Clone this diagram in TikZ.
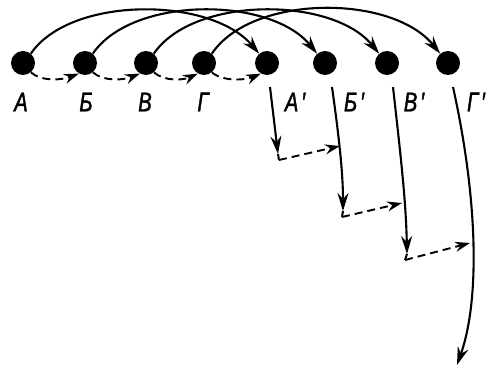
\documentclass[tikz,border=0pt]{standalone}
\usepackage{fontspec}
\newfontfamily\lblfont[FakeStretch=0.75,FakeBold=1.5]{Liberation Sans}
\usetikzlibrary{arrows.meta}
\begin{document}
\begin{tikzpicture}[x=1pt,y=-1pt,
 dot/.style={circle,fill=black,inner sep=0pt,minimum size=24pt},
 lbl/.style={font=\lblfont\fontsize{27}{27}\selectfont\itshape,inner sep=0pt},
 arc/.style={line width=2.1pt,-{Stealth[length=18pt,width=11pt,inset=6pt]}},
 dsh/.style={line width=1.9pt,dash pattern=on 8pt off 5pt,-{Stealth[length=15pt,width=10pt,inset=5pt]}},
 ln/.style={line width=2pt}]
\useasboundingbox (0,0) rectangle (487,371);
% dots
\node[dot] (a) at (23,63) {};
\node[dot] (b) at (85,63) {};
\node[dot] (v) at (146,63) {};
\node[dot] (g) at (204,63) {};
\node[dot] (a2) at (267,63) {};
\node[dot] (b2) at (325,63) {};
\node[dot] (v2) at (387,63) {};
\node[dot] (g2) at (448,63) {};
% labels
\node[lbl] (la) at (21,102) {А};
\node[lbl] (lb) at (86,102) {Б};
\node[lbl] (lv) at (145,102) {В};
\node[lbl] (lg) at (203,102) {Г};
\node[lbl] (la2) at (295,102) {А\hspace{3pt}′};
\node[lbl] (lb2) at (354,102) {Б\hspace{3pt}′};
\node[lbl] (lv2) at (414,102) {В\hspace{3pt}′};
\node[lbl] (lg2) at (476,102) {Г\hspace{3pt}′};
% arcs
\draw[arc] (a.50) .. controls (70,-4) and (210,-4) .. (a2.130);
\draw[arc] (b.50) .. controls (132,-4) and (270,-4) .. (b2.130);
\draw[arc] (v.50) .. controls (193,-4) and (332,-4) .. (v2.130);
\draw[arc] (g.50) .. controls (252,-6) and (392,-6) .. (g2.130);
% dashed links
\draw[dsh] (a.-50) .. controls (42,82) and (62,80) .. (b.-120);
\draw[dsh] (b.-50) .. controls (104,82) and (124,80) .. (v.-120);
\draw[dsh] (v.-50) .. controls (165,82) and (184,80) .. (g.-120);
\draw[dsh] (g.-50) .. controls (223,82) and (246,80) .. (a2.-120);
% descending lines
\coordinate (a2s) at (270,87);
\coordinate (a2t) at (278,154);
\coordinate (a2c) at (279,160);
\coordinate (b2s) at (332,87);
\coordinate (b2m) at (340,146);
\coordinate (b2t) at (343,211);
\coordinate (b2c) at (342,217);
\coordinate (v2s) at (393,87);
\coordinate (v2m) at (402,203);
\coordinate (v2t) at (407,254);
\coordinate (v2c) at (405,260);
\coordinate (g2s) at (453,87);
\coordinate (g2m) at (470,243);
\coordinate (g2t) at (457,365);
\draw[arc] (a2s) -- (a2t);
\draw[ln] (a2t) -- (a2c);
\draw[arc] (b2s) .. controls (338,130) and (343,170) .. (b2t);
\draw[ln] (b2t) -- (b2c);
\draw[arc] (v2s) .. controls (400,150) and (406,200) .. (v2t);
\draw[ln] (v2t) -- (v2c);
\draw[arc] (g2s) .. controls (478,200) and (480,300) .. (g2t);
\draw[dsh] (a2c) -- (b2m);
\draw[dsh] (b2c) -- (v2m);
\draw[dsh] (v2c) -- (g2m);
\end{tikzpicture}
\end{document}
